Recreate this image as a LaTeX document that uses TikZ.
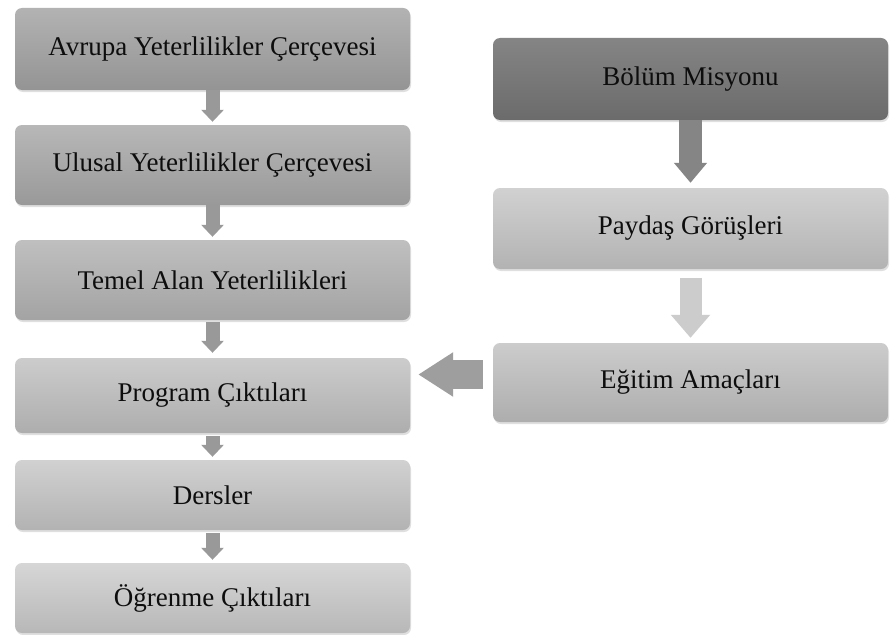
\documentclass[tikz,border=0pt]{standalone}
\usepackage{fontspec}
\setmainfont{Liberation Serif}
\usetikzlibrary{arrows.meta,shadows}

\begin{document}
\begin{tikzpicture}[x=1pt,y=-1pt,
  box/.style={rounded corners=7pt,minimum width=395pt,inner sep=0pt,
    font=\fontsize{27}{31}\selectfont,text=black!95,
    drop shadow={shadow xshift=1pt,shadow yshift=-2pt,opacity=0.25}},
  smallarr/.style={line width=14pt,color=black!40,
    -{Triangle[length=12pt,width=22pt]}},
  midarr/.style={line width=23pt,color=black!48,
    -{Triangle[length=20pt,width=32pt]}},
  lightarr/.style={line width=22pt,color=black!20,
    -{Triangle[length=23pt,width=38pt]}},
  bigarr/.style={line width=29pt,color=black!38,
    -{Triangle[length=35pt,width=42pt]}}]
\useasboundingbox[fill=white] (0,0) rectangle (890,634);

\node[box,minimum height=82pt,top color=black!30,bottom color=black!42] (avrupa) at (212.5,49) {Avrupa Yeterlilikler Çerçevesi};
\node[box,minimum height=80pt,top color=black!28,bottom color=black!40] (ulusal) at (212.5,165) {Ulusal Yeterlilikler Çerçevesi};
\node[box,minimum height=80pt,top color=black!25,bottom color=black!36] (temel) at (212.5,280) {Temel Alan Yeterlilikleri};
\node[box,minimum height=75pt,top color=black!20,bottom color=black!32] (program) at (212.5,395.5) {Program Çıktıları};
\node[box,minimum height=70pt,top color=black!18,bottom color=black!30] (dersler) at (212.5,495) {Dersler};
\node[box,minimum height=70pt,top color=black!16,bottom color=black!28] (ogrenme) at (212.5,598) {Öğrenme Çıktıları};

\node[box,minimum height=82pt,top color=black!48,bottom color=black!58] (misyon) at (690.5,79) {Bölüm Misyonu};
\node[box,minimum height=81pt,top color=black!18,bottom color=black!30] (paydas) at (690.5,228.5) {Paydaş Görüşleri};
\node[box,minimum height=79pt,top color=black!20,bottom color=black!32] (amac) at (690.5,382.5) {Eğitim Amaçları};

\draw[smallarr,shorten >=3pt] (avrupa.south) -- (ulusal.north);
\draw[smallarr,shorten >=3pt] (ulusal.south) -- (temel.north);
\draw[smallarr,shorten <=2pt,shorten >=5pt] (temel.south) -- (program.north);
\draw[smallarr,shorten <=3pt,shorten >=3pt] (program.south) -- (dersler.north);
\draw[smallarr,shorten <=3pt,shorten >=3pt] (dersler.south) -- (ogrenme.north);

\draw[midarr,shorten >=5pt] (misyon.south) -- (paydas.north);
\draw[lightarr,shorten <=9pt,shorten >=5pt] (paydas.south) -- (amac.north);
\draw[bigarr,shorten <=10pt,shorten >=8pt] ([yshift=8pt]amac.west) -- ([yshift=8pt]amac.west -| program.east);
\end{tikzpicture}
\end{document}
